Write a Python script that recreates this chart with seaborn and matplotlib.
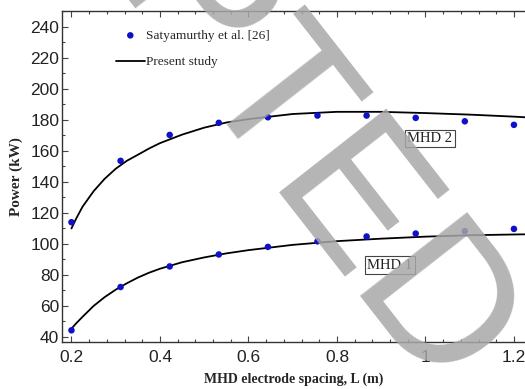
import numpy as np
import pandas as pd
import seaborn as sns
import matplotlib.pyplot as plt
from matplotlib.ticker import MultipleLocator

# electrode spacing of the reference points (m)
spacing = [0.2, 0.311, 0.422, 0.533, 0.644, 0.756, 0.867, 0.978, 1.089, 1.2]
# Satyamurthy et al. [26]
ref_mhd1 = [44.3, 72.2, 85.5, 93.2, 98.1, 101.7, 104.8, 106.7, 108.2, 109.7]
ref_mhd2 = [114.0, 153.6, 170.3, 178.1, 181.7, 182.8, 182.8, 181.3, 179.1, 176.8]

# present study curves
curve_x = [0.2, 0.21, 0.225, 0.25, 0.275, 0.3, 0.325, 0.35, 0.375, 0.4, 0.45, 0.5,
           0.55, 0.6, 0.7, 0.8, 0.9, 1.0, 1.1, 1.2, 1.225]
curve_mhd1 = [45.3, 48.6, 53.0, 60.0, 65.7, 70.5, 74.6, 78.3, 81.4, 84.0, 88.2, 91.3,
              93.9, 96.0, 99.4, 101.8, 103.4, 104.7, 105.6, 106.1, 106.2]
curve_mhd2 = [110.0, 116.0, 124.0, 134.0, 142.0, 148.5, 153.6, 157.5, 161.5, 165.0, 170.5, 175.0,
              178.3, 180.5, 183.8, 185.2, 185.2, 184.4, 183.4, 182.1, 181.7]

sns.set_style('ticks')
plt.rcParams['xtick.direction'] = 'in'
plt.rcParams['ytick.direction'] = 'in'

pts = pd.DataFrame({'L': spacing * 2, 'P': ref_mhd1 + ref_mhd2,
                    'unit': ['MHD 1'] * 10 + ['MHD 2'] * 10})
lines = pd.DataFrame({'L': curve_x * 2, 'P': curve_mhd1 + curve_mhd2,
                      'unit': ['MHD 1'] * len(curve_x) + ['MHD 2'] * len(curve_x)})

fig = plt.figure(figsize=(5.25, 3.89), dpi=100)
ax = fig.add_axes([0.118, 0.121, 0.882, 0.851])

for u in ['MHD 1', 'MHD 2']:
    d = lines[lines.unit == u]
    sns.lineplot(x=d.L, y=d.P, ax=ax, color='black', lw=1.3, sort=False,
                 estimator=None, label='Present study' if u == 'MHD 1' else None,
                 legend=False)
for u in ['MHD 1', 'MHD 2']:
    d = pts[pts.unit == u]
    sns.scatterplot(x=d.L, y=d.P, ax=ax, color='#1010c8', s=22, edgecolor='none',
                    label='Satyamurthy et al. [26]' if u == 'MHD 1' else None,
                    legend=False, zorder=3)

ax.set_xlim(0.1785, 1.225)
ax.set_ylim(36.8, 250.3)
ax.xaxis.set_major_locator(MultipleLocator(0.2))
ax.xaxis.set_minor_locator(MultipleLocator(0.04))
ax.yaxis.set_major_locator(MultipleLocator(20))
ax.yaxis.set_minor_locator(MultipleLocator(10))
ax.set_xticks([0.2, 0.4, 0.6, 0.8, 1.0, 1.2])
ax.set_xticklabels(['0.2', '0.4', '0.6', '0.8', '1', '1.2'])
ax.tick_params(which='both', top=True, colors='#444444', labelcolor='#222222',
               labelsize=12.5, width=0.8)
ax.tick_params(which='major', length=4)
ax.tick_params(which='minor', length=2)
ax.tick_params(axis='x', pad=6)
ax.tick_params(axis='y', pad=2)
for lab in ax.get_xticklabels() + ax.get_yticklabels():
    lab.set_family('Liberation Sans')
ax.spines['right'].set_visible(False)
for s in ['left', 'bottom', 'top']:
    ax.spines[s].set_color('#333333')
    ax.spines[s].set_linewidth(1.0)

ax.set_xlabel('MHD electrode spacing, L (m)', family='Liberation Serif',
              weight='bold', fontsize=10, labelpad=5)
ax.set_ylabel('Power (kW)', family='Liberation Serif', weight='bold',
              fontsize=11, labelpad=5)

h, l = ax.get_legend_handles_labels()
order = [l.index('Satyamurthy et al. [26]'), l.index('Present study')]
ax.legend([h[i] for i in order], [l[i] for i in order], frameon=False,
          loc='upper left', bbox_to_anchor=(0.09, 0.98),
          prop={'family': 'Liberation Serif', 'size': 9.6},
          handlelength=2.2, handletextpad=0.1, labelspacing=1.05)

box = dict(boxstyle='square,pad=0.15', fc='white', ec='#444444', lw=0.8)
ax.text(1.01, 168, 'MHD 2', family='Liberation Serif', fontsize=10.5,
        ha='center', va='center', bbox=box, color='#222222')
ax.text(0.92, 86.3, 'MHD 1', family='Liberation Serif', fontsize=10.5,
        ha='center', va='center', bbox=box, color='#222222')

fig.text(0.28, 1.15, 'ACCEPTED', family='Liberation Sans', fontsize=142,
         color='#a8a8a8', alpha=0.85, rotation=-52, ha='center', va='center',
         rotation_mode='anchor', zorder=10)

fig.savefig('out.png', dpi=100)
